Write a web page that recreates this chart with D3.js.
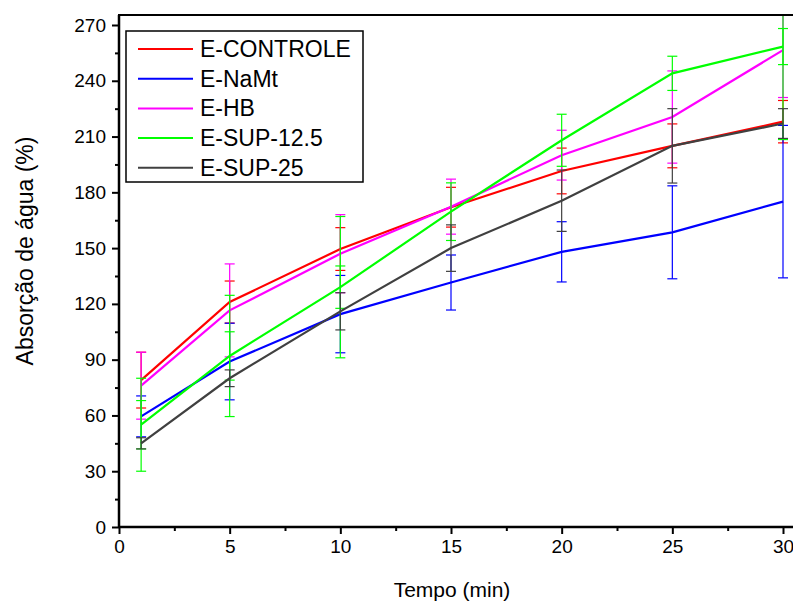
<!DOCTYPE html>
<html>
<head>
<meta charset="utf-8">
<script src="https://cdn.jsdelivr.net/npm/d3@7"></script>
<style>
  body { margin: 0; background: #fff; }
  text { font-family: "Liberation Sans", Arial, sans-serif; }
</style>
</head>
<body>
<div id="chart"></div>
<script>
const width = 793;
const height = 601;

// data
const tempo = [1, 5, 10, 15, 20, 25, 30];
const names = ["E-CONTROLE", "E-NaMt", "E-HB", "E-SUP-12.5", "E-SUP-25"];
const colors = ["#ff0000", "#0000ff", "#ff00ff", "#00ff00", "#404040"];

const controle = [79, 121, 149.5, 172, 191.5, 205, 218];
const namt     = [59.5, 89, 114.5, 131.5, 148, 158.5, 175];
const hb       = [76, 116.5, 147, 172.3, 200, 220.5, 256.5];
const sup125   = [55, 92, 129, 169.6, 208, 244, 258.4];
const sup25    = [45, 80, 116, 150, 175.5, 205, 217];

const errControle = [15, 11.3, 11.5, 10.7, 12.3, 11.8, 11.4];
const errNamt     = [11, 20.6, 20.8, 14.8, 16.2, 25, 41];
const errHb       = [18, 25, 21, 14.8, 13.4, 24.8, 25.5];
const errSup125   = [13, 13, 11.4, 15.5, 14, 9.2, 9.7];
const errSup25    = [3, 4.5, 10, 12.5, 16.5, 20, 8];
// second, wider error set visible for E-SUP-12.5
const errSup125b  = [25, 32.6, 38, 0, 0, 0, 50];

const yTicks = [0, 30, 60, 90, 120, 150, 180, 210, 240, 270];
const xTicks = [0, 5, 10, 15, 20, 25, 30];

const series = names.map((n, i) => ({
    name: n,
    color: colors[i],
    values: [controle, namt, hb, sup125, sup25][i],
    errs: [[errControle, errNamt, errHb, errSup125, errSup25][i]].concat(i === 3 ? [errSup125b] : [])
}));

var svg = d3.select("#chart")
    .append("svg")
    .attr("width", width)
    .attr("height", height)

const x = d3.scaleLinear().domain([0, 30]).range([119, 783]);
const y = d3.scaleLinear().domain([0, 270]).range([527, 25]);
const yTop = 275.4;
const xRight = 30.6;

svg.append("defs").append("clipPath").attr("id", "plot")
    .append("rect")
    .attr("x", x(0)).attr("y", y(yTop))
    .attr("width", x(xRight) - x(0)).attr("height", y(0) - y(yTop));

const plot = svg.append("g").attr("clip-path", "url(#plot)");

const line = d3.line()
    .x((d, i) => x(tempo[i]))
    .y(d => y(d));

// error bars then lines, per series
series.forEach(s => {
    const g = plot.append("g");
    s.errs.forEach(err => {
        tempo.forEach((t, i) => {
            if (!err[i]) return;
            const lo = s.values[i] - err[i], hi = s.values[i] + err[i];
            g.append("line")
                .attr("x1", x(t)).attr("x2", x(t))
                .attr("y1", y(lo)).attr("y2", y(hi))
                .attr("stroke", s.color).attr("stroke-width", 1.2);
            [lo, hi].forEach(v => {
                g.append("line")
                    .attr("x1", x(t) - 5).attr("x2", x(t) + 5)
                    .attr("y1", y(v)).attr("y2", y(v))
                    .attr("stroke", s.color).attr("stroke-width", 1.2);
            });
        });
    });
    g.append("path")
        .datum(s.values)
        .attr("d", line)
        .attr("fill", "none")
        .attr("stroke", s.color)
        .attr("stroke-width", 2.2);
});

// frame
svg.append("path")
    .attr("d", `M${x(0)},${y(0)} V${y(yTop)} H${x(xRight)}`)
    .attr("fill", "none").attr("stroke", "#000").attr("stroke-width", 2);

// axes
const yAxis = svg.append("g")
    .attr("transform", `translate(${x(0)},0)`)
    .call(d3.axisLeft(y).tickValues(yTicks).tickSize(7).tickPadding(6));
svg.append("g")
    .attr("transform", `translate(${x(0)},0)`)
    .call(d3.axisLeft(y).tickValues(yTicks.slice(0, -1).map(v => v + 15)).tickSize(4).tickFormat(""))
    .call(g => g.select(".domain").remove());

const xAxis = svg.append("g")
    .attr("transform", `translate(0,${y(0)})`)
    .call(d3.axisBottom(x).tickValues(xTicks).tickSize(7).tickPadding(6));
svg.append("g")
    .attr("transform", `translate(0,${y(0)})`)
    .call(d3.axisBottom(x).tickValues(xTicks.slice(0, -1).map(v => v + 2.5)).tickSize(4).tickFormat(""))
    .call(g => g.select(".domain").remove());

svg.selectAll(".tick line").attr("stroke", "#000").attr("stroke-width", 2);
svg.selectAll(".domain").attr("stroke", "#000").attr("stroke-width", 2.5);
svg.selectAll(".tick text")
    .style("font-family", "'Liberation Sans', Arial, sans-serif")
    .style("font-size", "19px")
    .attr("fill", "#000");
yAxis.selectAll(".domain").attr("d", `M0,${y(0)}V${y(yTop)}`);
xAxis.selectAll(".domain").attr("d", `M${x(0)},0H${x(xRight)}`);

// axis titles
svg.append("text")
    .attr("x", 452).attr("y", 597)
    .attr("text-anchor", "middle")
    .style("font-size", "21px")
    .text("Tempo (min)");

svg.append("text")
    .attr("transform", "translate(33,251) rotate(-90)")
    .attr("text-anchor", "middle")
    .style("font-size", "23px")
    .text("Absorção de água (%)");

// legend
const legend = svg.append("g");
legend.append("rect")
    .attr("x", 126).attr("y", 31)
    .attr("width", 237).attr("height", 151)
    .attr("fill", "#fff").attr("stroke", "#000").attr("stroke-width", 1.5);

series.forEach((s, i) => {
    const ly = 49 + i * 29.7;
    legend.append("line")
        .attr("x1", 138).attr("x2", 193)
        .attr("y1", ly).attr("y2", ly)
        .attr("stroke", s.color).attr("stroke-width", 2);
    legend.append("text")
        .attr("x", 200).attr("y", ly + 8)
        .style("font-size", "23px")
        .text(s.name);
});
</script>
</body>
</html>
